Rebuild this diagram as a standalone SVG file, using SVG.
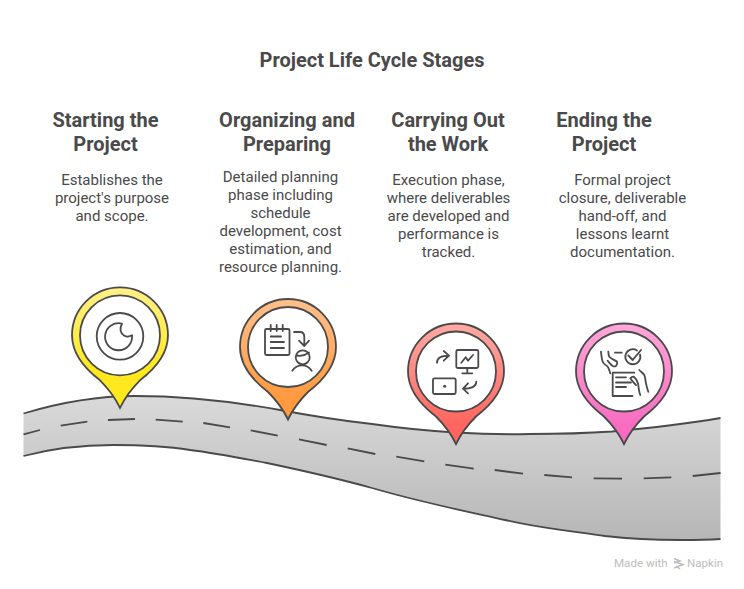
<svg xmlns="http://www.w3.org/2000/svg" width="744" height="589" viewBox="0 0 744 589">
<style>
text{font-family:Roboto,"Liberation Sans",sans-serif;fill:#4a4a4a;text-anchor:middle}
.t{font-size:20px;font-weight:700}
.h{font-size:20px;font-weight:700}
.b{font-size:15px;font-weight:400}
.pin{stroke:#4a4a4a;stroke-width:1.800}
.in{fill:#fff;stroke:#4a4a4a;stroke-width:1.800}
.ic{fill:none;stroke:#4a4a4a;stroke-width:1.800;stroke-linecap:round;stroke-linejoin:round}
.edge{fill:none;stroke:#4a4a4a;stroke-width:1.800}
.wm{font-size:11.600px;fill:#bdbdbd;text-anchor:start}
</style>
<defs>
<linearGradient id="road" x1="0" y1="0" x2="0" y2="1"><stop offset="0" stop-color="#dadada"/><stop offset="1" stop-color="#b6b6b6"/></linearGradient>
<linearGradient id="gy" x1="0" y1="0" x2="0" y2="1"><stop offset="0" stop-color="#fff08a"/><stop offset=".7" stop-color="#ffe81e"/></linearGradient>
<linearGradient id="go" x1="0" y1="0" x2="0" y2="1"><stop offset="0" stop-color="#ffc08c"/><stop offset=".8" stop-color="#ff9a40"/></linearGradient>
<linearGradient id="gr" x1="0" y1="0" x2="0" y2="1"><stop offset="0" stop-color="#ffaaa4"/><stop offset=".85" stop-color="#ff645e"/></linearGradient>
<linearGradient id="gp" x1="0" y1="0" x2="0" y2="1"><stop offset="0" stop-color="#ffa8da"/><stop offset=".85" stop-color="#f76cc0"/></linearGradient>
<path id="drop" d="M0,72.500C-5,62 -12,53 -20,45C-37,32 -48,18 -48,0A48,48 0 1 1 48,0C48,18 37,32 20,45C12,53 5,62 0,72.500Z"/>
</defs>
<text class="t" x="372" y="67">Project Life Cycle Stages</text>
<g id="road-shape">
<path fill="url(#road)" d="M23.500,413.500C55,404 90,396 135,396C185,396 230,401 280,410C320,417.500 340,420.500 372,424C400,428 430,431 455,432.500C480,434 510,434.500 530,434C560,434 590,433 612,431.500C650,428 685,424 720.500,418V539C705,540 695,540 682,540C655,540 630,539 605,536C570,531 540,528 505,520C460,510 420,502 372,488C340,479 300,470 267,463C240,458 215,453 190,450C165,446 140,445 113,445C85,445 50,449 23.500,456Z"/>
</g>
<g id="connectors">
<path class="edge" d="M23.500,413.500C55,404 90,396 135,396C185,396 230,401 280,410C320,417.500 340,420.500 372,424C400,428 430,431 455,432.500C480,434 510,434.500 530,434C560,434 590,433 612,431.500C650,428 685,424 720.500,418"/>
<path class="edge" d="M720.500,539C705,540 695,540 682,540C655,540 630,539 605,536C570,531 540,528 505,520C460,510 420,502 372,488C340,479 300,470 267,463C240,458 215,453 190,450C165,446 140,445 113,445C85,445 50,449 23.500,456"/>
<path class="edge" d="M23.500,434.300L40,430M60.700,425.700L87.300,421.700M108,420L135,419M155.700,419.700L182.700,421.700M203.300,423L230,427.300M250.700,430.300L277.700,435.700M299,439.300L326.700,445M347.700,448.300L375.300,454M396.300,456.700L424.300,461.300M445.300,464.700L473.700,468.700M494.700,470L523,473.700M544.300,475L572,477.300M593.700,478.300L622,478.700M643.700,478.300L671.300,477.300M692.700,476L720.500,473"/>
</g>
<g id="stage-1">
<text class="h" x="105.500" y="127">Starting the</text><text class="h" x="105.500" y="151">Project</text>
<text class="b" x="112" y="185">Establishes the</text><text class="b" x="112" y="203">project's purpose</text><text class="b" x="112" y="221">and scope.</text>
<use href="#drop" x="120" y="335.300" fill="url(#gy)" class="pin"/>
<circle class="in" cx="120" cy="335.300" r="40"/>
<circle class="ic" cx="120" cy="336.300" r="23.300"/>
<path class="ic" d="M122,323.700C119.500,328 120,333 124,335.500C126.500,337 129.500,336.700 132,335.300A13.500,13.500 0 1 1 122,323.700Z"/>
</g>
<g id="stage-2">
<text class="h" x="287" y="127">Organizing and</text><text class="h" x="287" y="151">Preparing</text>
<text class="b" x="280.500" y="182">Detailed planning</text><text class="b" x="280.500" y="200">phase including</text><text class="b" x="280.500" y="218">schedule</text><text class="b" x="280.500" y="236">development, cost</text><text class="b" x="280.500" y="254">estimation, and</text><text class="b" x="280.500" y="272">resource planning.</text>
<use href="#drop" x="288" y="347" fill="url(#go)" class="pin"/>
<circle class="in" cx="288" cy="347" r="40"/>
<rect class="ic" x="265" y="329" width="24.500" height="26" rx="1.500"/>
<path class="ic" d="M270.700,325V331M276.700,325V331M282.700,325V331M270.700,336.500H281M270.700,342H284M270.700,348H284M294,332H300C303,332 304.300,334 304.300,337V346M299,340.700L304.300,346L309,340.700M296.500,355.500C301,356.500 305,355.500 309,352.500M292.300,370.700C297,363.500 307,363.500 311.700,370.700"/>
<circle class="ic" cx="302.700" cy="357.300" r="7"/>
</g>
<g id="stage-3">
<text class="h" x="448" y="127">Carrying Out</text><text class="h" x="448" y="151">the Work</text>
<text class="b" x="448.500" y="185">Execution phase,</text><text class="b" x="448.500" y="203">where deliverables</text><text class="b" x="448.500" y="221">are developed and</text><text class="b" x="448.500" y="239">performance is</text><text class="b" x="448.500" y="257">tracked.</text>
<use href="#drop" x="456" y="371.500" fill="url(#gr)" class="pin"/>
<circle class="in" cx="456" cy="371.500" r="40"/>
<rect class="ic" x="456.300" y="350" width="22" height="18" rx="1.500"/>
<rect class="ic" x="433" y="378.300" width="22.700" height="15.700" rx="1.500"/>
<circle cx="444.700" cy="386.300" r="1.500" fill="#4a4a4a"/>
<path class="ic" d="M467.300,368V373.300M462.300,373.300H472.300M461.300,362.700L465.700,357.300L468,360.700L473,355M437,362.700C437,358 441,355.700 449,355.700M443.700,351L449,355.700L443.700,360.700M476.300,381.700C476.300,386 472,388.700 463,388.700M468,383.300L463,388.700L468,393.300"/>
</g>
<g id="stage-4">
<text class="h" x="604" y="127">Ending the</text><text class="h" x="604" y="151">Project</text>
<text class="b" x="622.500" y="185">Formal project</text><text class="b" x="622.500" y="203">closure, deliverable</text><text class="b" x="622.500" y="221">hand-off, and</text><text class="b" x="622.500" y="239">lessons learnt</text><text class="b" x="622.500" y="257">documentation.</text>
<use href="#drop" x="624" y="371.500" fill="url(#gp)" class="pin"/>
<circle class="in" cx="624" cy="371.500" r="40"/>
<path class="ic" d="M637,350.500A7.500,7.500 0 1 0 640,354.500M628.300,355.500L632.700,360L641,350M615,352.700H621.700M634.300,372.700H612.700V396H632.500M616,377.300H626M616,382.500H631M616,387H626"/>
<path class="ic" d="M601,351.700C601.500,356 601.500,359 602.700,361.700C603.500,364 606,365 607.700,366.700C609,368.500 609.500,371 610.300,373.300M608.300,351.700C608.500,354 608.500,355.500 609.300,356.700C611,359 615,360 617,361.700C617.500,363.500 617,365 616,366C615,366.500 613.700,366.500 612.700,366C610.500,364.500 609,362.500 607.700,360.700M639.300,370C641,372 643,373 644.300,375C645.500,378 645.300,380.500 646,383.300C646.500,386 647.300,389 648.300,391.700M630.300,378.300C631.500,377 632.700,376.500 633.700,376.700C635.500,378 637,380.500 637.700,382.700C638.500,384.500 638.300,386.500 638.700,388.300C639,391 639.500,393 640.300,395M630.300,378.300C632,381 634,383 636,385"/>
</g>
<g id="watermark">
<text class="wm" x="614" y="567">Made with</text>
<path d="M674,558.500L680,561L674,563M674,561.500L683,564.500L674,568M676,566L680,569" fill="none" stroke="#bdbdbd" stroke-width="1.500"/>
<text class="wm" x="687" y="567">Napkin</text>
</g>
</svg>
